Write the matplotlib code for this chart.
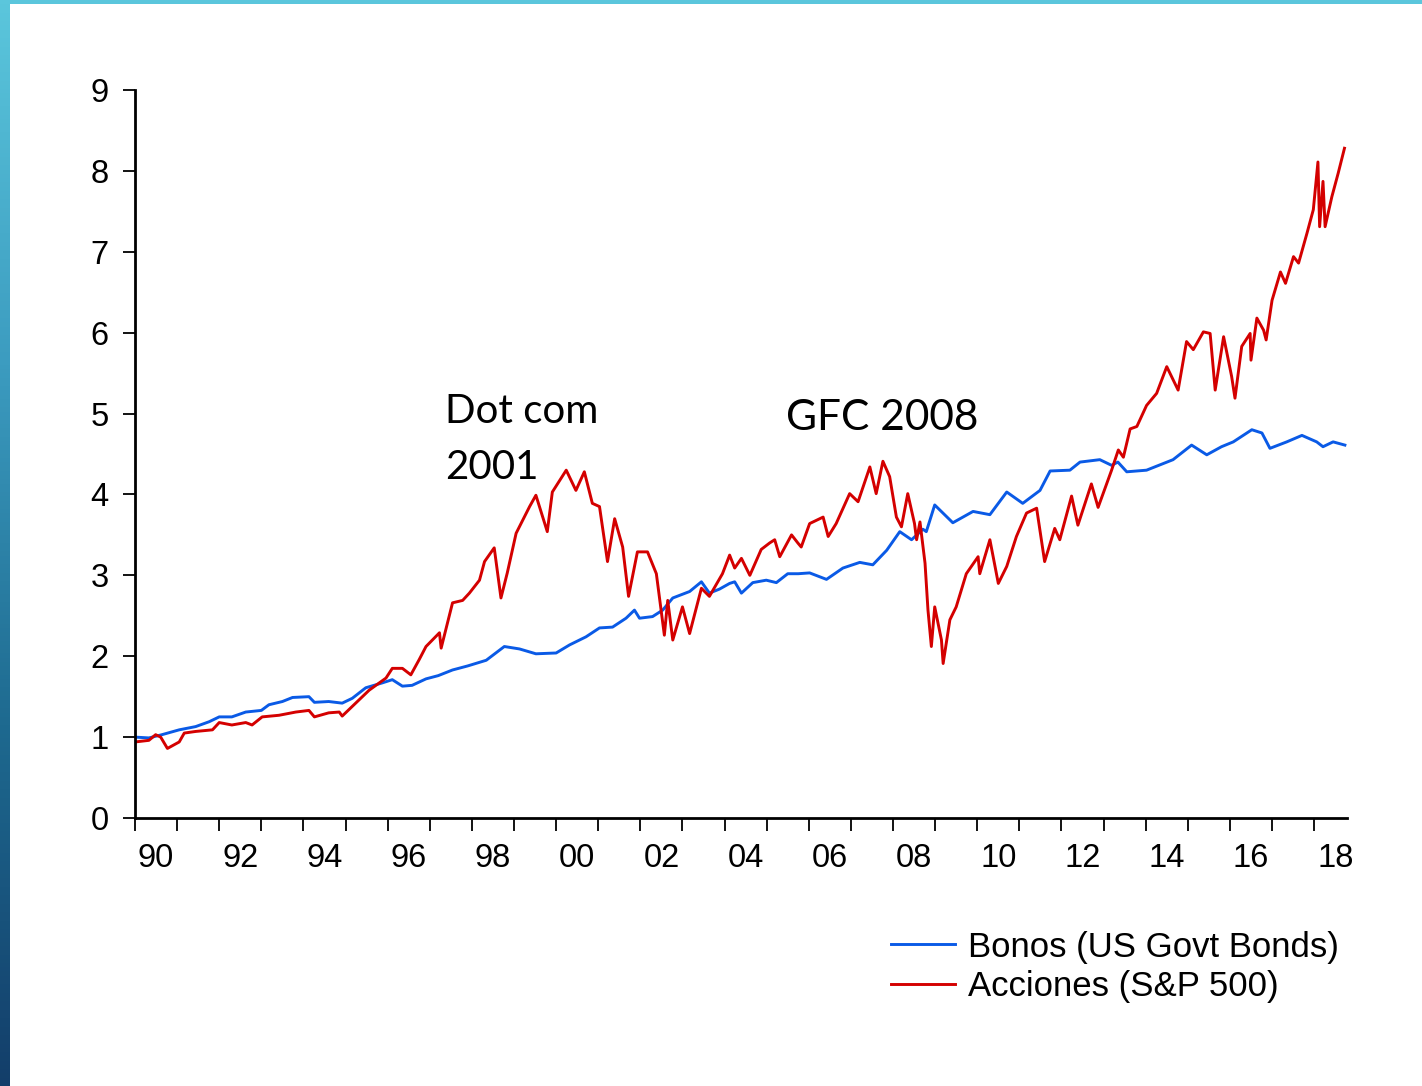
import matplotlib
matplotlib.use("Agg")
import matplotlib.pyplot as plt
import numpy as np
from matplotlib.colors import LinearSegmentedColormap
from matplotlib.patches import Rectangle
from matplotlib.ticker import FixedLocator, NullFormatter, FixedFormatter

# values (fractional year, index level)
BOND_YEARS = [
    1990.00, 1990.33, 1990.64, 1991.05, 1991.44, 1991.76, 1992.00, 1992.30,
    1992.63, 1993.00, 1993.18, 1993.50, 1993.74, 1994.13, 1994.26, 1994.60,
    1994.92, 1995.16, 1995.48, 1995.87, 1996.11, 1996.35, 1996.58, 1996.91,
    1997.20, 1997.54, 1997.90, 1998.34, 1998.77, 1999.13, 1999.52, 2000.00,
    2000.32, 2000.71, 2001.03, 2001.34, 2001.66, 2001.86, 2001.98, 2002.29,
    2002.53, 2002.77, 2003.17, 2003.45, 2003.64, 2003.88, 2004.12, 2004.24,
    2004.40, 2004.67, 2004.99, 2005.23, 2005.50, 2005.75, 2006.02, 2006.42,
    2006.81, 2007.21, 2007.52, 2007.85, 2008.16, 2008.44, 2008.71, 2008.79,
    2008.99, 2009.42, 2009.90, 2010.30, 2010.70, 2011.08, 2011.49, 2011.73,
    2012.20, 2012.44, 2012.91, 2013.19, 2013.34, 2013.55, 2014.02, 2014.65,
    2015.09, 2015.45, 2015.80, 2016.08, 2016.52, 2016.76, 2016.95, 2017.35,
    2017.71, 2018.06, 2018.21, 2018.45, 2018.73,
]
BOND_VALUES = [
    1.00, 0.99, 1.03, 1.09, 1.13, 1.19, 1.25, 1.25,
    1.31, 1.33, 1.40, 1.44, 1.49, 1.50, 1.43, 1.44,
    1.42, 1.48, 1.61, 1.67, 1.71, 1.63, 1.64, 1.72,
    1.76, 1.83, 1.88, 1.95, 2.12, 2.09, 2.03, 2.04,
    2.14, 2.24, 2.35, 2.36, 2.47, 2.57, 2.47, 2.49,
    2.57, 2.72, 2.80, 2.92, 2.78, 2.83, 2.90, 2.92,
    2.78, 2.91, 2.94, 2.91, 3.02, 3.02, 3.03, 2.95,
    3.09, 3.16, 3.13, 3.31, 3.54, 3.44, 3.57, 3.54,
    3.87, 3.65, 3.79, 3.75, 4.03, 3.89, 4.05, 4.29,
    4.30, 4.40, 4.43, 4.36, 4.40, 4.28, 4.30, 4.43,
    4.61, 4.49, 4.59, 4.65, 4.80, 4.76, 4.57, 4.65,
    4.73, 4.65, 4.59, 4.65, 4.61,
]

STOCK_YEARS = [
    1990.00, 1990.33, 1990.49, 1990.61, 1990.77, 1991.05, 1991.17, 1991.44,
    1991.84, 1992.00, 1992.30, 1992.63, 1992.78, 1993.02, 1993.42, 1993.82,
    1994.13, 1994.26, 1994.60, 1994.85, 1994.92, 1995.24, 1995.56, 1995.96,
    1996.11, 1996.35, 1996.55, 1996.75, 1996.91, 1997.06, 1997.23, 1997.27,
    1997.54, 1997.78, 1997.94, 1998.18, 1998.30, 1998.53, 1998.69, 1998.84,
    1999.05, 1999.37, 1999.52, 1999.79, 1999.91, 2000.24, 2000.47, 2000.67,
    2000.86, 2001.03, 2001.22, 2001.39, 2001.58, 2001.72, 2001.93, 2002.17,
    2002.38, 2002.57, 2002.65, 2002.77, 2003.00, 2003.17, 2003.45, 2003.64,
    2003.95, 2004.12, 2004.24, 2004.40, 2004.60, 2004.87, 2005.07, 2005.19,
    2005.31, 2005.59, 2005.74, 2005.82, 2006.02, 2006.34, 2006.46, 2006.65,
    2006.97, 2007.17, 2007.45, 2007.60, 2007.76, 2007.92, 2008.08, 2008.20,
    2008.35, 2008.51, 2008.56, 2008.64, 2008.76, 2008.83, 2008.91, 2008.99,
    2009.15, 2009.19, 2009.35, 2009.50, 2009.74, 2010.02, 2010.06, 2010.30,
    2010.50, 2010.70, 2010.93, 2011.17, 2011.41, 2011.60, 2011.84, 2011.96,
    2012.24, 2012.39, 2012.71, 2012.87, 2013.19, 2013.35, 2013.47, 2013.63,
    2013.79, 2014.02, 2014.26, 2014.50, 2014.77, 2014.97, 2015.13, 2015.37,
    2015.53, 2015.65, 2015.85, 2016.04, 2016.12, 2016.28, 2016.48, 2016.50,
    2016.64, 2016.80, 2016.86, 2017.00, 2017.20, 2017.32, 2017.51, 2017.63,
    2017.83, 2017.98, 2018.09, 2018.13, 2018.21, 2018.26, 2018.42, 2018.57,
    2018.72,
]
STOCK_VALUES = [
    0.94, 0.96, 1.03, 1.00, 0.86, 0.94, 1.05, 1.07,
    1.09, 1.18, 1.15, 1.18, 1.15, 1.25, 1.27, 1.31,
    1.33, 1.25, 1.30, 1.31, 1.26, 1.42, 1.58, 1.73,
    1.85, 1.85, 1.77, 1.96, 2.12, 2.20, 2.29, 2.10,
    2.66, 2.69, 2.78, 2.94, 3.17, 3.34, 2.72, 3.03,
    3.52, 3.85, 3.99, 3.54, 4.03, 4.30, 4.05, 4.28,
    3.89, 3.85, 3.17, 3.70, 3.35, 2.74, 3.29, 3.29,
    3.02, 2.26, 2.69, 2.20, 2.61, 2.28, 2.84, 2.74,
    3.02, 3.25, 3.09, 3.21, 3.00, 3.32, 3.40, 3.44,
    3.23, 3.50, 3.40, 3.35, 3.64, 3.72, 3.48, 3.64,
    4.01, 3.91, 4.34, 4.01, 4.41, 4.22, 3.72, 3.60,
    4.01, 3.64, 3.44, 3.66, 3.15, 2.57, 2.12, 2.61,
    2.20, 1.91, 2.45, 2.61, 3.02, 3.23, 3.02, 3.44,
    2.90, 3.11, 3.48, 3.77, 3.83, 3.17, 3.58, 3.44,
    3.98, 3.62, 4.13, 3.84, 4.30, 4.55, 4.46, 4.81,
    4.84, 5.10, 5.25, 5.58, 5.29, 5.89, 5.79, 6.01,
    5.99, 5.29, 5.95, 5.46, 5.19, 5.83, 5.99, 5.66,
    6.18, 6.03, 5.91, 6.40, 6.75, 6.61, 6.94, 6.86,
    7.23, 7.52, 8.11, 7.31, 7.87, 7.31, 7.68, 7.97,
    8.28,
]

BOND_LABEL = "Bonos (US Govt Bonds)"
STOCK_LABEL = "Acciones (S&P 500)"
YEAR_TICKS = list(range(1990, 2019))
YEAR_LABEL_YEARS = list(range(1990, 2019, 2))
YEAR_LABELS = [f"{y % 100:02d}" for y in YEAR_LABEL_YEARS]
Y_TICKS = list(range(0, 10))

BLUE = "#0A5AE6"
RED = "#D40000"

W, H = 1422, 1086
fig = plt.figure(figsize=(W / 100, H / 100), dpi=100)
plt.rcParams["font.family"] = ["Liberation Sans", "DejaVu Sans"]

# slide decoration: cyan strip on top, gradient bar on the left
bar = fig.add_axes([0, 0, 10 / W, 1])
grad = LinearSegmentedColormap.from_list(
    "bar", ["#133E6A", "#1E6A90", "#3C9CC0", "#5BC6DC"])
bar.imshow(np.linspace(0, 1, 256).reshape(-1, 1), aspect="auto", cmap=grad,
           origin="lower", extent=[0, 1, 0, 1])
bar.set_axis_off()
fig.patches.append(Rectangle((0, 1 - 4 / H), 1, 4 / H, transform=fig.transFigure,
                             facecolor="#5BC6DC", edgecolor="none"))

ax = fig.add_axes([135 / W, 1 - 818 / H, (1347 - 135) / W, (818 - 90) / H])
ax.plot(BOND_YEARS, BOND_VALUES, color=BLUE, lw=2.1, label=BOND_LABEL)
ax.plot(STOCK_YEARS, STOCK_VALUES, color=RED, lw=2.1, label=STOCK_LABEL)

ax.set_xlim(1990, 2018.78)
ax.set_ylim(0, 9)
ax.set_yticks(Y_TICKS)
ax.xaxis.set_major_locator(FixedLocator(YEAR_TICKS))
ax.xaxis.set_major_formatter(NullFormatter())
ax.xaxis.set_minor_locator(FixedLocator([y + 0.5 for y in YEAR_LABEL_YEARS]))
ax.xaxis.set_minor_formatter(FixedFormatter(YEAR_LABELS))
ax.tick_params(axis="x", which="major", length=9, width=1.3, direction="out")
ax.tick_params(axis="x", which="minor", length=0, pad=18, labelsize=23.5)
ax.tick_params(axis="y", length=9, width=1.3, direction="out", pad=10, labelsize=23.5)
for side in ("top", "right"):
    ax.spines[side].set_visible(False)
for side in ("left", "bottom"):
    ax.spines[side].set_linewidth(2.0)

ann_font = ["Lato", "DejaVu Sans"]
ax.text(1997.37, 5.03, "Dot com", family=ann_font, fontsize=29, va="center", ha="left")
ax.text(1997.37, 4.33, "2001", family=ann_font, fontsize=29, va="center", ha="left")
ax.text(2005.45, 4.94, "GFC 2008", family=ann_font, fontsize=30.5, va="center", ha="left")

fig.legend(loc="center left", bbox_to_anchor=(891 / W, 1 - 967 / H), frameon=False,
           fontsize=25, handlelength=1.85, handletextpad=0.38, labelspacing=0.2,
           borderpad=0, borderaxespad=0)

fig.savefig("out.png", dpi=100, facecolor="white")
